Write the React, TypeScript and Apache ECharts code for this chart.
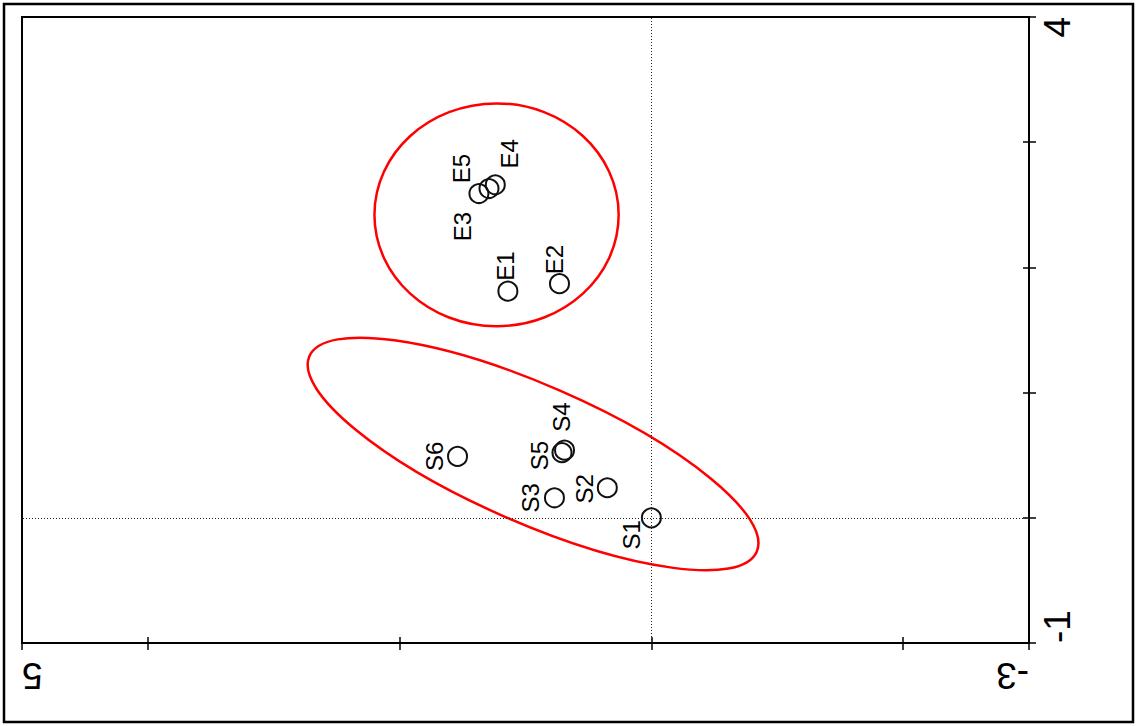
import React, { useEffect, useRef } from "react";
import * as echarts from "echarts";

// ---- data ----
const pointNames = ["S1", "S2", "S3", "S4", "S5", "S6", "E1", "E2", "E3", "E4", "E5"];
const dim1 = [0, 0.35, 0.77, 0.69, 0.71, 1.54, 1.14, 0.73, 1.37, 1.24, 1.29];
const dim2 = [0, 0.24, 0.16, 0.54, 0.52, 0.49, 1.81, 1.87, 2.59, 2.66, 2.63];

// confidence ellipses (data units): centre, semi-axes, angle (deg)
const ellipseCx = [1.23, 0.94];
const ellipseCy = [2.42, 0.51];
const ellipseA = [0.97, 1.94];
const ellipseB = [0.89, 0.55];
const ellipseAngle = [0, 23.6];

const xTicks = [-3, -2, 0, 2, 4, 5];
const xInnerTicks = [-2, 0, 2, 4];
const xLabels = [-3, 5];
const yLabels = [-1, 4];

// label screen offsets (layout only)
const labelOffsets: [number, number][] = [
  [-20, 17], [-23, 1], [-24, 0], [-3, -33], [-23, 3], [-23, 0],
  [-2, -25], [-5, -24], [-16, 33], [14, -31], [-27, -20],
];

const FONT = "Liberation Sans, Arial, sans-serif";

export default function App() {
  const ref = useRef<HTMLDivElement>(null);
  useEffect(() => {
    if (!ref.current) return;
    const chart = echarts.init(ref.current, undefined, { renderer: "svg" });

    const points = pointNames.map((n, i) => {
      const [sx, sy] = labelOffsets[i];
      return {
        name: n,
        value: [dim1[i], dim2[i]],
        label: { offset: [-sy, sx] },
      };
    });
    const ellipses = ellipseCx.map((c, i) => [c, ellipseCy[i], ellipseA[i], ellipseB[i], ellipseAngle[i]]);

    chart.setOption({
      animation: false,
      backgroundColor: "#fff",
      graphic: [
        {
          type: "rect",
          shape: { x: 4, y: 4, width: 1129, height: 718 },
          style: { fill: "none", stroke: "#000", lineWidth: 2.5 },
          z: 100,
        },
      ],
      grid: {
        left: 22,
        right: 109,
        top: 17,
        bottom: 83,
        show: true,
        borderColor: "#000",
        borderWidth: 2,
        backgroundColor: "transparent",
      },
      xAxis: [
        {
          type: "value",
          min: -3,
          max: 5,
          inverse: true,
          position: "bottom",
          axisLine: { show: true, onZero: false, lineStyle: { color: "#000", width: 2 } },
          axisTick: { show: true, length: 7, customValues: xTicks, lineStyle: { color: "#000", width: 1.5 } },
          axisLabel: {
            show: true,
            customValues: xLabels,
            rotate: 180,
            fontSize: 37,
            color: "#000",
            fontFamily: FONT,
            margin: 14,
            alignMinLabel: "left",
            alignMaxLabel: "right",
          },
          splitLine: { show: false },
        },
        {
          type: "value",
          min: -3,
          max: 5,
          inverse: true,
          position: "bottom",
          axisLine: { show: false, onZero: false },
          axisTick: { show: true, inside: true, length: 6, customValues: xInnerTicks, lineStyle: { color: "#000", width: 1.5 } },
          axisLabel: { show: false },
          splitLine: { show: false },
        },
      ],
      yAxis: [
        {
          type: "value",
          min: -1,
          max: 4,
          interval: 1,
          position: "right",
          axisLine: { show: true, onZero: false, lineStyle: { color: "#000", width: 2 } },
          axisTick: { show: true, length: 7, lineStyle: { color: "#000", width: 1.5 } },
          axisLabel: {
            show: true,
            customValues: yLabels,
            rotate: 90,
            fontSize: 37,
            color: "#000",
            fontFamily: FONT,
            margin: 10,
            alignMinLabel: "left",
            alignMaxLabel: "right",
          },
          splitLine: { show: false },
        },
        {
          type: "value",
          min: -1,
          max: 4,
          interval: 1,
          position: "right",
          axisLine: { show: false, onZero: false },
          axisTick: { show: true, inside: true, length: 6, lineStyle: { color: "#000", width: 1.5 } },
          axisLabel: { show: false },
          splitLine: { show: false },
        },
      ],
      series: [
        {
          type: "custom",
          coordinateSystem: "cartesian2d",
          xAxisIndex: 0,
          yAxisIndex: 0,
          silent: true,
          data: ellipses,
          encode: { x: 0, y: 1 },
          renderItem: (params: any, api: any) => {
            const c = api.coord([api.value(0), api.value(1)]);
            const rx = api.size([api.value(2), 0])[0];
            const ry = api.size([0, api.value(3)])[1];
            return {
              type: "ellipse",
              x: c[0],
              y: c[1],
              // x axis is inverted, so a positive data angle turns clockwise on screen
              rotation: (-api.value(4) * Math.PI) / 180,
              shape: { cx: 0, cy: 0, rx, ry },
              style: { fill: "none", stroke: "#ff0000", lineWidth: 2.5 },
            };
          },
          z: 1,
        },
        {
          type: "scatter",
          xAxisIndex: 0,
          yAxisIndex: 0,
          symbol: "circle",
          symbolSize: 19,
          itemStyle: { color: "rgba(0,0,0,0)", borderColor: "#111", borderWidth: 2, opacity: 1 },
          label: {
            show: true,
            position: "inside",
            rotate: 90,
            formatter: "{b}",
            fontSize: 24,
            color: "#000",
            fontFamily: FONT,
            textBorderWidth: 0,
          },
          data: points,
          markLine: {
            silent: true,
            symbol: "none",
            label: { show: false },
            lineStyle: { type: [1, 2], color: "#222", width: 1, opacity: 1 },
            data: [{ xAxis: 0 }, { yAxis: 0 }],
          },
          z: 3,
        },
      ],
    });
    return () => chart.dispose();
  }, []);

  return (
    <div
      ref={ref}
      style={{ position: "absolute", left: 0, top: 0, width: 1138, height: 726 }}
    />
  );
}
